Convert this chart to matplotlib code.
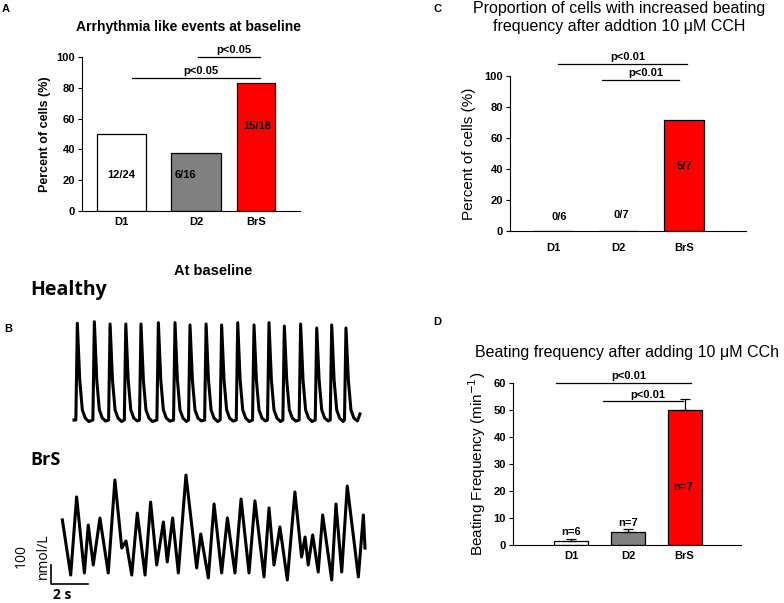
import numpy as np
from matplotlib import pyplot as plt

# ---------------------------------------------------------------
# Data
# ---------------------------------------------------------------
groups = ["D1", "D2", "BrS"]
bar_colors = ["white", "#808080", "#ff0000"]

# A: arrhythmia-like events at baseline (% of cells)
arrhythmia_pct = [50.0, 37.5, 83.3]
arrhythmia_counts = ["12/24", "6/16", "15/18"]

# C: cells with increased beating frequency after CCh (%)
cch_pct = [0.0, 0.0, 71.4]
cch_counts = ["0/6", "0/7", "5/7"]

# D: beating frequency after CCh (min^-1), mean and error
beat_freq = [1.6, 4.8, 50.0]
beat_freq_err = [0.5, 1.0, 4.0]
beat_n = ["n=6", "n=7", "n=7"]

# B: calcium traces, time (s) and concentration (nmol/L)
healthy_t = [0.00,
             0.10, 0.18, 0.31, 0.45, 0.61, 0.80,
             1.02, 1.10, 1.23, 1.37, 1.53, 1.72,
             1.87, 1.95, 2.08, 2.22, 2.38, 2.57,
             2.72, 2.80, 2.93, 3.07, 3.23, 3.42,
             3.54, 3.62, 3.75, 3.89, 4.05, 4.24,
             4.48, 4.56, 4.69, 4.83, 4.99, 5.18,
             5.38, 5.46, 5.59, 5.73, 5.89, 6.08,
             6.19, 6.27, 6.40, 6.54, 6.70, 6.89,
             7.06, 7.14, 7.27, 7.41, 7.57, 7.76,
             7.90, 7.98, 8.11, 8.25, 8.41, 8.60,
             8.77, 8.85, 8.98, 9.12, 9.28, 9.47,
             9.65, 9.73, 9.86, 10.00, 10.16, 10.35,
             10.46, 10.54, 10.67, 10.81, 10.97, 11.16,
             11.29, 11.37, 11.50, 11.64, 11.80, 11.99,
             12.17, 12.25, 12.38, 12.52, 12.68, 12.87,
             13.04, 13.12, 13.25, 13.39, 13.55, 13.74,
             13.85, 13.93, 14.06, 14.20, 14.36, 14.55,
             14.62, 14.70, 14.83, 14.97, 15.13, 15.32,
             15.46]
healthy_c = [0,
             0, 509, 210, 53, 10, -8,
             0, 517, 210, 53, 10, -6,
             0, 505, 210, 53, 10, -8,
             0, 505, 210, 53, 10, -5,
             0, 505, 210, 53, 10, -8,
             0, 512, 210, 53, 10, -6,
             0, 512, 210, 53, 10, -8,
             0, 500, 210, 53, 10, -5,
             0, 505, 210, 53, 10, -8,
             0, 500, 210, 53, 10, -6,
             0, 512, 210, 53, 10, -8,
             0, 500, 210, 53, 10, -5,
             0, 512, 210, 53, 10, -8,
             0, 494, 210, 53, 10, -6,
             0, 505, 210, 53, 10, -8,
             0, 484, 210, 53, 10, -5,
             0, 500, 210, 53, 10, -8,
             0, 484, 210, 53, 10, -5,
             32]

brs_t = [0.02, 0.47, 0.79, 1.21, 1.42, 1.69, 2.05, 2.50, 2.86, 3.23,
         3.46, 3.77, 4.07, 4.49, 4.79, 5.12, 5.48, 5.69, 5.98, 6.29,
         6.70, 7.28, 7.50, 7.91, 8.22, 8.63, 8.94, 9.35, 9.68, 10.11,
         10.43, 10.92, 11.19, 11.46, 11.78, 12.18, 12.59, 12.95, 13.14, 13.31,
         13.55, 13.85, 14.09, 14.58, 14.81, 15.12, 15.42, 16.02, 16.29, 16.38]
brs_c = [316, 26, 437, 37, 289, 79, 326, 37, 526, 168,
         205, 26, 352, 26, 410, 79, 305, 95, 326, 37,
         552, 63, 242, 11, 400, 37, 326, 37, 426, 37,
         416, 16, 379, 79, 279, 0, 463, 121, 226, 79,
         237, 42, 342, 0, 400, 42, 494, 16, 342, 168]

# ---------------------------------------------------------------
# Layout helpers (pixel coordinates of the 784x603 canvas)
# ---------------------------------------------------------------
W, H = 784, 603
plt.rcParams['font.family'] = ['Liberation Sans', 'DejaVu Sans']
fig = plt.figure(figsize=(W / 100, H / 100), dpi=100)


def px_axes(left, top, right, bottom):
    return fig.add_axes([left / W, 1 - bottom / H, (right - left) / W, (bottom - top) / H])


def px_text(x, y, s, **kw):
    fig.text(x / W, 1 - y / H, s, **kw)


def style_bar_axes(ax, ylim, yticks):
    ax.set_ylim(ylim)
    ax.set_yticks(yticks)
    for sp in ["top", "right"]:
        ax.spines[sp].set_visible(False)
    ax.tick_params(axis="y", direction="out", length=3, width=0.8, labelsize=8, pad=2)
    ax.tick_params(axis="x", length=0, labelsize=8, pad=4)
    for lab in ax.get_yticklabels() + ax.get_xticklabels():
        lab.set_fontweight("bold")


def sig_line(ax, x0, x1, y, label, ylab):
    ax.plot([x0, x1], [y, y], color="black", lw=0.9, clip_on=False)
    ax.text((x0 + x1) / 2 + 5, ylab, label, ha="center", va="center",
            fontsize=8, fontweight="bold", clip_on=False)


# ---------------------------------------------------------------
# A
# ---------------------------------------------------------------
axA = px_axes(82, 57, 300, 211)
posA = [121.5, 196, 256]
widA = [49, 50, 38]
axA.bar(posA, arrhythmia_pct, width=widA, color=bar_colors, edgecolor="black", linewidth=0.9)
axA.set_xlim(82, 300)
axA.set_xticks(posA, groups)
style_bar_axes(axA, (0, 100), range(0, 101, 20))
axA.set_ylabel("Percent of cells (%)", fontsize=9, fontweight="bold", labelpad=4)
for x, y, s in zip([121.5, 185, 257], [23.4, 23.4, 55], arrhythmia_counts):
    axA.text(x, y, s, ha="center", va="center", fontsize=8, fontweight="bold")
sig_line(axA, 198, 260, 100, "p<0.05", 104.5)
sig_line(axA, 132, 260, 86.4, "p<0.05", 90.9)
px_text(189, 27, "Arrhythmia like events at baseline", ha="center", va="center",
        fontsize=10, fontweight="bold")
px_text(6, 9, "A", ha="center", va="center", fontsize=8, fontweight="bold")

# ---------------------------------------------------------------
# C
# ---------------------------------------------------------------
axC = px_axes(510, 76, 746, 231)
posC = [553, 618, 684]
axC.bar(posC, cch_pct, width=40, color=bar_colors, edgecolor="black", linewidth=0.9)
axC.set_xlim(510, 746)
axC.set_xticks(posC, groups)
style_bar_axes(axC, (0, 100), range(0, 101, 20))
axC.tick_params(axis="x", pad=9)
axC.set_ylabel("Percent of cells (%)", fontsize=11, labelpad=6)
for x, y, s in zip([559, 621, 684], [9, 10.3, 41.9], cch_counts):
    axC.text(x, y, s, ha="center", va="center", fontsize=8, fontweight="bold")
sig_line(axC, 558, 687, 107.7, "p<0.01", 112.3)
sig_line(axC, 602, 679, 97.4, "p<0.01", 101.9)
px_text(619, 9, "Proportion of cells with increased beating", ha="center", va="center", fontsize=11.5)
px_text(619, 27, "frequency after addtion 10 μM CCH", ha="center", va="center", fontsize=11.5)
px_text(438, 9, "C", ha="center", va="center", fontsize=8, fontweight="bold")

# ---------------------------------------------------------------
# D
# ---------------------------------------------------------------
axD = px_axes(513, 383, 741, 545)
posD = [571, 628, 684.5]
axD.bar(posD, beat_freq, width=34, color=bar_colors, edgecolor="black", linewidth=0.9)
axD.errorbar(posD, beat_freq, yerr=[np.zeros(3), beat_freq_err], fmt="none",
             ecolor="black", elinewidth=0.9, capsize=3.6, capthick=0.9)
axD.set_xlim(513, 741)
axD.set_xticks(posD, groups)
style_bar_axes(axD, (0, 60), range(0, 61, 10))
axD.set_ylabel("Beating Frequency (min$^{-1}$)", fontsize=11, labelpad=4)
for x, y, s in zip([571, 628, 683], [4.8, 8.1, 21.5], beat_n):
    axD.text(x, y, s, ha="center", va="center", fontsize=8, fontweight="bold")
sig_line(axD, 556, 691, 60, "p<0.01", 62.6)
sig_line(axD, 603, 683, 53.3, "p<0.01", 55.6)
px_text(627, 352, "Beating frequency after adding 10 μM CCh", ha="center", va="center", fontsize=11.5)
px_text(437, 322, "D", ha="center", va="center", fontsize=8, fontweight="bold")

# ---------------------------------------------------------------
# B: traces (1 s = 18.5 px, 100 nmol/L = 19 px)
# ---------------------------------------------------------------
axH = px_axes(40, 300, 370, 440)
axH.plot(healthy_t, healthy_c, color="black", lw=2.2, solid_joinstyle="round")
axH.set_xlim(-1.838, 16.0)
axH.set_ylim(-105.2, 631.2)
axH.axis("off")

axB = px_axes(40, 455, 370, 600)
axB.plot(brs_t, brs_c, color="black", lw=2.2, solid_joinstyle="round")
axB.set_xlim(-1.189, 16.649)
axB.set_ylim(-105.2, 657.5)
axB.axis("off")
# scale bar: 2 s x 100 nmol/L
axB.plot([-0.595, -0.595, 1.405], [79, -21, -21], color="black", lw=1.2, clip_on=False)

px_text(62, 595, "2 s", ha="center", va="center", fontsize=10, fontweight="bold",
        family=["Open Sans", "DejaVu Sans"])
px_text(21, 556, "100", ha="center", va="center", rotation=90, fontsize=10,
        family=["Open Sans", "DejaVu Sans"])
px_text(43, 556, "nmol/L", ha="center", va="center", rotation=90, fontsize=10,
        family=["Open Sans", "DejaVu Sans"])

px_text(213, 271, "At baseline", ha="center", va="center", fontsize=10.5, fontweight="bold")
px_text(30, 290, "Healthy", ha="left", va="center", fontsize=14, fontweight="bold",
        family=["Open Sans", "DejaVu Sans"])
px_text(30, 460, "BrS", ha="left", va="center", fontsize=13, fontweight="bold",
        family=["Open Sans", "DejaVu Sans"])
px_text(8, 329, "B", ha="center", va="center", fontsize=8, fontweight="bold")

fig.savefig("out.png", dpi=100)
